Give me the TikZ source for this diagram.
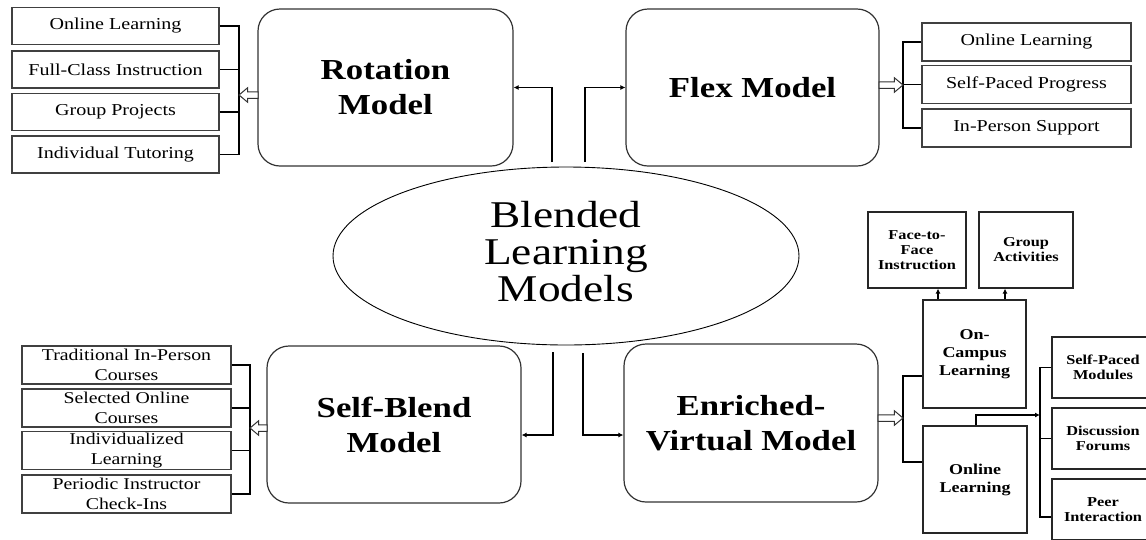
\documentclass[tikz,border=0pt]{standalone}
\usepackage{fontspec}
\setmainfont{Liberation Serif}[FakeStretch=1.2]
\usetikzlibrary{shapes.geometric,shapes.arrows,arrows.meta,calc}

\begin{document}
\begin{tikzpicture}[x=1pt,y=-1pt,
  model/.style={draw=black!80, line width=1.2pt, rounded corners=22pt,
    minimum height=157pt, inner sep=0pt, align=center,
    font=\fontsize{29}{35}\selectfont\bfseries},
  item/.style={draw=black!75, line width=1.3pt, minimum height=37pt,
    minimum width=207pt, inner sep=0pt, align=center,
    font=\fontsize{16.7}{20}\selectfont},
  sub/.style={draw=black!85, line width=1.2pt, inner sep=0pt, align=center,
    font=\fontsize{13.6}{15}\selectfont\bfseries},
  mid/.style={sub, font=\fontsize{15}{18}\selectfont\bfseries},
  conn/.style={line width=1.5pt, black},
  arr/.style={conn, -{Latex[length=5pt,width=5pt]}},
  hollow/.style={single arrow, draw=black!80, fill=white, line width=1pt,
    text height=5.5pt, text depth=0pt, minimum width=0pt,
    single arrow head extend=4pt, single arrow tip angle=80,
    inner sep=0pt, outer sep=0pt, shape border rotate=#1},
]
\clip (0,0) rectangle (1146,539);
\fill[white] (0,0) rectangle (1146,539);

% central ellipse
\node[draw, ellipse, line width=0.9pt, minimum width=466pt, minimum height=178pt,
  inner sep=0pt] (blm) at (566,256) {};
\node[font=\fontsize{37.8}{37}\selectfont, align=center, inner sep=0pt]
  (blmtext) at (566,252) {Blended\\Learning\\Models};

% four models
\node[model, minimum width=255pt, fill=white] (rot) at (385.5,87.5) {Rotation\\Model};
\node[model, minimum width=253pt, fill=white] (flex) at (752.5,87.5) {Flex Model};
\node[model, minimum width=254pt, fill=white] (sb) at (394,424.5) {Self-Blend\\Model};
\node[model, minimum width=254pt, minimum height=158pt, fill=white] (ev) at (751,423)
  {Enriched-\\Virtual Model};

% connectors from the centre
\coordinate (c1) at (552,162);
\coordinate (c2) at (585,162);
\coordinate (c3) at (553,352);
\coordinate (c4) at (583,353);
\coordinate (lvB) at (0,435);
\draw[arr] (c1) |- (rot.east);
\draw[arr] (c2) |- (flex.west);
\draw[arr] (c3) -- (c3 |- lvB) -- (sb.east |- lvB);
\draw[arr] (c4) -- (c4 |- lvB) -- (ev.west |- lvB);

% rotation model components
\node[item] (tl1) at (115.5,26) {Online Learning};
\node[item] (tl2) at (115.5,69.5) {Full-Class Instruction};
\node[item] (tl3) at (115.5,112) {Group Projects};
\node[item] (tl4) at (115.5,154.5) {Individual Tutoring};
\coordinate (bTL) at (239,95);
\draw[conn] (tl1.east) -- (tl1.east -| bTL) -- (tl4.east -| bTL) -- (tl4.east);
\draw[conn] (tl2.east) -- (tl2.east -| bTL);
\draw[conn] (tl3.east) -- (tl3.east -| bTL);
\node[hollow=180, minimum height=19pt, anchor=tip] (hTL) at (bTL) {};

% flex model components
\node[item, minimum width=209pt, minimum height=38pt] (tr1) at (1026.5,42) {Online Learning};
\node[item, minimum width=209pt, minimum height=38pt] (tr2) at (1026.5,84.5) {Self-Paced Progress};
\node[item, minimum width=209pt, minimum height=38pt] (tr3) at (1026.5,128) {In-Person Support};
\coordinate (bTR) at (903,85);
\draw[conn] (tr1.west) -- (tr1.west -| bTR) -- (tr3.west -| bTR) -- (tr3.west);
\draw[conn] (tr2.west) -- (tr2.west -| bTR);
\node[hollow=0, minimum height=24pt, anchor=tip] (hTR) at (bTR) {};

% self-blend model components
\tikzset{bitem/.style={item, minimum width=209pt, minimum height=38pt,
  font=\fontsize{16.5}{20}\selectfont}}
\node[bitem] (bl1) at (126.5,365) {Traditional In-Person\\Courses};
\node[bitem] (bl2) at (126.5,408) {Selected Online\\Courses};
\node[bitem] (bl3) at (126.5,450.5) {Individualized\\Learning};
\node[bitem] (bl4) at (126.5,494) {Periodic Instructor\\Check-Ins};
\coordinate (bBL) at (250,428);
\draw[conn] (bl1.east) -- (bl1.east -| bBL) -- (bl4.east -| bBL) -- (bl4.east);
\draw[conn] (bl2.east) -- (bl2.east -| bBL);
\draw[conn] (bl3.east) -- (bl3.east -| bBL);
\node[hollow=180, minimum height=17pt, anchor=tip] (hBL) at (bBL) {};

% enriched-virtual model components
\node[sub, minimum width=98pt, minimum height=76pt] (ftf) at (917,250) {Face-to-\\Face\\Instruction};
\node[sub, minimum width=94pt, minimum height=76pt] (ga) at (1026,250) {Group\\Activities};
\node[mid, minimum width=103pt, minimum height=108pt] (oc) at (974.5,354) {On-\\Campus\\Learning};
\node[mid, minimum width=104pt, minimum height=107pt] (ol) at (975,479.5) {Online\\Learning};
\coordinate (upA) at (938,0);
\coordinate (upB) at (1005,0);
\draw[arr] (oc.north -| upA) -- (ftf.south -| upA);
\draw[arr] (oc.north -| upB) -- (ga.south -| upB);

\coordinate (bBR) at (903,418);
\coordinate (lvOC) at (0,376);
\coordinate (lvOL) at (0,462);
\draw[conn] (oc.west |- lvOC) -- (bBR |- lvOC) -- (bBR |- lvOL) -- (ol.west |- lvOL);
\node[hollow=0, minimum height=25pt, anchor=tip] (hBR) at (bBR) {};

\node[sub, minimum width=102pt, minimum height=61pt] (spm) at (1103,367.5) {Self-Paced\\Modules};
\node[sub, minimum width=102pt, minimum height=61pt] (df) at (1103,438.5) {Discussion\\Forums};
\node[sub, minimum width=102pt, minimum height=61pt] (pi) at (1103,509.5) {Peer\\Interaction};
\coordinate (olUp) at (976,415);
\coordinate (bR) at (1040,415);
\coordinate (lvPI) at (0,517);
\draw[arr] (ol.north -| olUp) -- (olUp) -- (bR);
\draw[conn] (spm.west) -- (spm.west -| bR) -- (bR |- lvPI) -- (pi.west |- lvPI);
\draw[conn] (df.west) -- (df.west -| bR);
\end{tikzpicture}
\end{document}
